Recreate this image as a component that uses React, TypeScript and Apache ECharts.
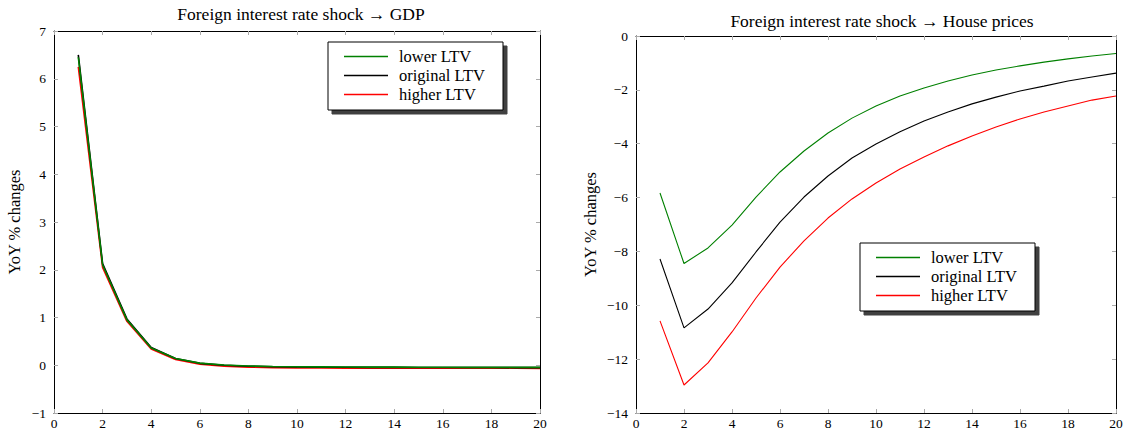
import React, { useEffect, useRef } from "react";
import * as echarts from "echarts";

const periods = Array.from({ length: 20 }, (_, i) => i + 1);

const gdpLower = [6.45, 2.1, 0.95, 0.36, 0.14, 0.045, 0.005, -0.015, -0.025, -0.03, -0.035, -0.038, -0.04, -0.04, -0.042, -0.043, -0.044, -0.045, -0.045, -0.045];
const gdpOriginal = [6.5, 2.13, 0.97, 0.37, 0.14, 0.04, 0.0, -0.02, -0.03, -0.035, -0.04, -0.042, -0.044, -0.045, -0.046, -0.047, -0.048, -0.048, -0.049, -0.05];
const gdpHigher = [6.25, 2.05, 0.92, 0.34, 0.12, 0.02, -0.02, -0.04, -0.05, -0.055, -0.058, -0.06, -0.06, -0.062, -0.062, -0.063, -0.063, -0.064, -0.064, -0.065];

const hpLower = [-5.83, -8.45, -7.87, -7.02, -5.98, -5.05, -4.27, -3.6, -3.05, -2.6, -2.23, -1.93, -1.67, -1.45, -1.26, -1.11, -0.97, -0.85, -0.74, -0.65];
const hpOriginal = [-8.28, -10.84, -10.14, -9.17, -8.02, -6.91, -5.98, -5.2, -4.53, -4.01, -3.56, -3.16, -2.82, -2.52, -2.27, -2.04, -1.86, -1.67, -1.52, -1.38];
const hpHigher = [-10.58, -12.96, -12.14, -10.99, -9.73, -8.58, -7.61, -6.76, -6.05, -5.46, -4.94, -4.49, -4.08, -3.71, -3.38, -3.08, -2.82, -2.6, -2.38, -2.23];

const seriesNames = ["lower LTV", "original LTV", "higher LTV"];
const seriesColors = ["#008000", "#000000", "#ff0000"];
const titles = ["Foreign interest rate shock \u2192 GDP", "Foreign interest rate shock \u2192 House prices"];
const yLabel = "YoY % changes";

const FONT = "'Liberation Serif', 'DejaVu Serif', serif";

function fmt(v: number) {
  return v < 0 ? "\u2212" + Math.abs(v) : String(v);
}

export default function App() {
  const ref = useRef<HTMLDivElement>(null);
  useEffect(() => {
    if (!ref.current) return;
    const chart = echarts.init(ref.current, undefined, { renderer: "svg" });

    const grids = [
      { left: 54, top: 31, width: 486, height: 382 },
      { left: 636, top: 36, width: 480, height: 377 },
    ];
    const yRanges = [
      { min: -1, max: 7, interval: 1 },
      { min: -14, max: 0, interval: 2 },
    ];
    const lineWidths = [1.6, 1.1];

    const xAxes: any[] = [];
    const yAxes: any[] = [];
    grids.forEach((_, gi) => {
      const baseX = {
        type: "value",
        gridIndex: gi,
        min: 0,
        max: 20,
        interval: 2,
        splitLine: { show: false },
        axisLine: { show: true, onZero: false, lineStyle: { color: "#000", width: 1 } },
        axisTick: { show: true, inside: true, length: 4, lineStyle: { color: "#aaa" } },
      };
      xAxes.push({
        ...baseX,
        position: "bottom",
        axisLabel: { show: true, color: "#000000", fontFamily: FONT, fontSize: 13.5, margin: 3, formatter: (v: number) => fmt(v) },
      });
      xAxes.push({ ...baseX, position: "top", axisLabel: { show: false } });
      const baseY = {
        type: "value",
        gridIndex: gi,
        ...yRanges[gi],
        splitLine: { show: false },
        axisLine: { show: true, onZero: false, lineStyle: { color: "#000", width: 1 } },
        axisTick: { show: true, inside: true, length: 4, lineStyle: { color: "#aaa" } },
      };
      yAxes.push({
        ...baseY,
        position: "left",
        name: yLabel,
        nameLocation: "middle",
        nameGap: gi === 0 ? 31 : 37,
        nameRotate: 90,
        nameTextStyle: { color: "#000", fontFamily: FONT, fontSize: 16.5 },
        axisLabel: { show: true, color: "#000000", fontFamily: FONT, fontSize: 13.5, margin: 8, formatter: (v: number) => fmt(v) },
      });
      yAxes.push({ ...baseY, position: "right", axisLabel: { show: false } });
    });

    const data = [
      [gdpLower, gdpOriginal, gdpHigher],
      [hpLower, hpOriginal, hpHigher],
    ];
    const series: any[] = [];
    data.forEach((set, gi) => {
      [2, 1, 0].forEach((si) => {
        series.push({
          type: "line",
          name: seriesNames[si],
          xAxisIndex: gi * 2,
          yAxisIndex: gi * 2,
          data: periods.map((p, i) => [p, set[si][i]]),
          symbol: "none",
          showSymbol: false,
          lineStyle: { color: seriesColors[si], width: lineWidths[gi] },
          itemStyle: { color: seriesColors[si] },
          z: 2 + (2 - si),
        });
      });
    });

    const legendBase = {
      orient: "vertical",
      data: seriesNames.map((n) => ({ name: n, icon: "path://M0,0 L44,0 L44,1.3 L0,1.3 Z" })),
      backgroundColor: "#fff",
      borderColor: "#000",
      borderWidth: 1,
      borderRadius: 0,
      shadowColor: "rgba(0,0,0,0.75)",
      shadowOffsetX: 4,
      shadowOffsetY: 4,
      shadowBlur: 1,
      itemWidth: 44,
      itemHeight: 1.3,
      itemGap: 2,
      padding: [6, 18, 7, 16],
      textStyle: { color: "#000", fontFamily: FONT, fontSize: 16.5, lineHeight: 14, padding: [0, 0, 0, 6] },
      selectedMode: false,
    };

    chart.setOption({
      animation: false,
      textStyle: { color: "#000", fontFamily: FONT },
      title: [
        { text: titles[0], left: 296, top: 0, textAlign: "center", textStyle: { fontFamily: FONT, fontSize: 17.5, fontWeight: "normal", color: "#000" } },
        { text: titles[1], left: 877, top: 7, textAlign: "center", textStyle: { fontFamily: FONT, fontSize: 17.5, fontWeight: "normal", color: "#000" } },
      ],
      legend: [
        { ...legendBase, left: 328, top: 42 },
        { ...legendBase, left: 860, top: 243 },
      ],
      grid: grids,
      xAxis: xAxes,
      yAxis: yAxes,
      series,
    });
    return () => chart.dispose();
  }, []);
  return <div ref={ref} style={{ position: "absolute", left: 0, top: 0, width: 1129, height: 437 }} />;
}
